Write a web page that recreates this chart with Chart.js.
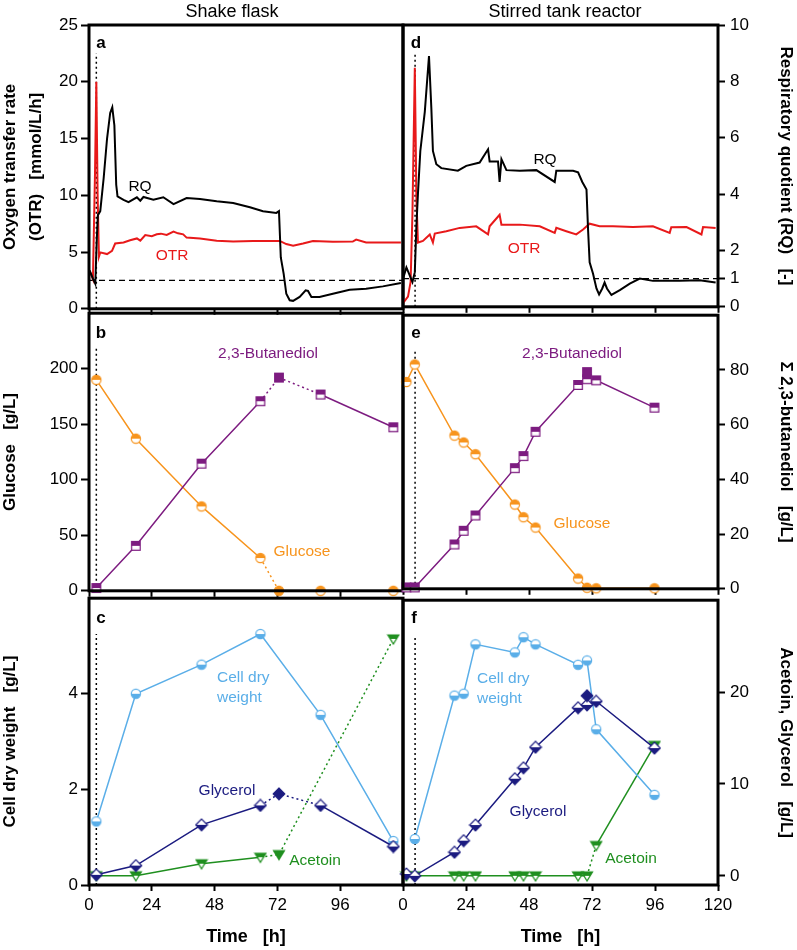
<!DOCTYPE html>
<html>
<head>
<meta charset="utf-8">
<script src="https://cdn.jsdelivr.net/npm/chart.js@4/dist/chart.umd.min.js"></script>
<style>
  body { margin: 0; width: 797px; height: 950px; position: relative; overflow: hidden; background: #fff; }
  canvas { position: absolute; }
  .lbl { position: absolute; transform: translate(-50%, -50%); white-space: nowrap; line-height: 1;
         font-family: "Liberation Sans", Arial, Helvetica, sans-serif; font-size: 15.5px; }
  .hdr { font-size: 18px; }
  .let { font-size: 17px; font-weight: bold; }
  .blk { position: absolute; font-family: "Liberation Sans", Arial, sans-serif; font-size: 15.5px; line-height: 20px; }
</style>
</head>
<body>
<canvas id="cA" width="420" height="322" style="left:0;top:0"></canvas>
<canvas id="cD" width="407" height="322" style="left:390px;top:0"></canvas>
<canvas id="cB" width="420" height="304" style="left:0;top:300px"></canvas>
<canvas id="cE" width="407" height="304" style="left:390px;top:300px"></canvas>
<canvas id="cC" width="420" height="365" style="left:0;top:585px"></canvas>
<canvas id="cF" width="407" height="365" style="left:390px;top:585px"></canvas>

<div class="lbl hdr" style="left:232px;top:11px">Shake flask</div>
<div class="lbl hdr" style="left:565px;top:11px">Stirred tank reactor</div>
<div class="lbl let" style="left:101px;top:42px">a</div>
<div class="lbl let" style="left:416px;top:42px">d</div>
<div class="lbl let" style="left:101px;top:332px">b</div>
<div class="lbl let" style="left:416px;top:332px">e</div>
<div class="lbl let" style="left:101px;top:617px">c</div>
<div class="lbl let" style="left:414px;top:617px">f</div>
<div class="lbl" style="left:140px;top:186px">RQ</div>
<div class="lbl" style="left:172px;top:255px;color:#e8191a">OTR</div>
<div class="lbl" style="left:545px;top:159px">RQ</div>
<div class="lbl" style="left:524px;top:248px;color:#e8191a">OTR</div>
<div class="lbl" style="left:268px;top:353px;color:#7d1c80">2,3-Butanediol</div>
<div class="lbl" style="left:302px;top:551px;color:#f7941d">Glucose</div>
<div class="lbl" style="left:572px;top:353px;color:#7d1c80">2,3-Butanediol</div>
<div class="lbl" style="left:582px;top:523px;color:#f7941d">Glucose</div>
<div class="blk" style="left:217px;top:667px;color:#5aaee8">Cell dry<br>weight</div>
<div class="blk" style="left:477px;top:668px;color:#5aaee8">Cell dry<br>weight</div>
<div class="lbl" style="left:227px;top:790px;color:#1b1b80">Glycerol</div>
<div class="lbl" style="left:538px;top:811px;color:#1b1b80">Glycerol</div>
<div class="lbl" style="left:315px;top:860px;color:#1f8f1f">Acetoin</div>
<div class="lbl" style="left:631px;top:858px;color:#1f8f1f">Acetoin</div>

<script>
// tick positions
const timeTicksL = [0, 24, 48, 72, 96];
const timeTicksR = [0, 24, 48, 72, 96, 120];
const otrTicks = [0, 5, 10, 15, 20, 25];
const rqTicks = [0, 1, 2, 4, 6, 8, 10];
const glucoseTicks = [0, 50, 100, 150, 200];
const bdoTicks = [0, 20, 40, 60, 80];
const cdwTicks = [0, 2, 4];
const byproductTicks = [0, 10, 20];

// shake flask online data
const sfOtrT = [0.3, 1.5, 2.3, 2.8, 3.3, 3.8, 4.3, 6.9, 8.8, 10, 13.2, 15.7, 18.3, 19.6, 21.5, 24, 25.9, 27.5, 29.7, 32.3, 34, 36, 37.3, 42.4, 48.8, 55.1, 62.7, 72.9, 75.4, 78, 81.8, 85.6, 93.2, 100.8, 102.1, 105.9, 119.2];
const sfOtr = [3.3, 2.6, 12, 20, 10, 4.6, 4.97, 4.82, 5.1, 5.75, 5.84, 6.04, 6.2, 6.0, 6.5, 6.4, 6.56, 6.62, 6.5, 6.8, 6.65, 6.56, 6.27, 6.2, 6.0, 5.92, 5.98, 5.98, 5.7, 5.55, 5.75, 5.98, 5.9, 5.92, 6.1, 5.84, 5.84];
const sfRqT = [0.25, 1.5, 2.4, 3.0, 3.4, 4.3, 5.6, 6.9, 8.1, 8.9, 9.7, 10.4, 10.9, 13.2, 15.1, 18.3, 19.6, 20.8, 24.6, 28.4, 32.3, 37.3, 42.4, 48.8, 55.1, 61.5, 66.5, 71.6, 72.6, 73.3, 74.4, 75.4, 76.7, 78, 80.5, 82.8, 83.7, 85, 88.1, 93.2, 99.6, 105.9, 112.3, 119.2];
const sfRq = [1.35, 1.06, 0.88, 2.5, 3.3, 3.44, 4.6, 6.0, 6.9, 7.1, 6.46, 4.37, 3.96, 3.84, 3.76, 3.93, 3.81, 3.94, 3.84, 3.93, 3.69, 3.9, 3.87, 3.79, 3.73, 3.58, 3.44, 3.38, 3.44, 1.81, 1.23, 0.53, 0.30, 0.28, 0.42, 0.65, 0.63, 0.42, 0.42, 0.53, 0.67, 0.71, 0.79, 0.91];

// stirred tank online data
const strOtrT = [0, 1.9, 2.9, 3.6, 4.5, 5.1, 5.7, 7.6, 10.2, 11.4, 12.1, 16.5, 21.6, 27.9, 32.4, 33, 36.8, 37.5, 44.5, 52.1, 57.8, 58.4, 62.2, 66, 68.6, 71.1, 74.9, 80, 87.6, 95.2, 101.6, 102.2, 108, 113.7, 114.3, 119.1];
const strOtr = [0.32, 0.9, 2.2, 8.3, 21.2, 9.76, 5.7, 5.84, 6.42, 5.7, 6.5, 6.7, 7.0, 7.14, 6.42, 7.14, 8.16, 7.29, 7.29, 7.14, 6.56, 7.0, 6.7, 6.42, 6.85, 7.37, 7.14, 7.14, 7.08, 7.14, 6.56, 7.06, 7.08, 6.42, 7.08, 7.0];
const strRqT = [0, 1.3, 2.6, 3.6, 4.5, 5.1, 5.7, 6.6, 8.3, 9.9, 10.8, 11.4, 12.7, 14.6, 20.9, 24.1, 29.2, 32.4, 33, 36.2, 36.8, 37.5, 39.4, 44.5, 50.8, 57.8, 58.4, 64.8, 66.7, 68.3, 69.9, 70.5, 71.1, 72.4, 73.7, 74.7, 75.9, 76.8, 77.7, 79.4, 82.6, 86.4, 90.2, 95.2, 105.4, 113, 119.1];
const strRq = [1.0, 1.4, 1.11, 0.88, 1.23, 2.86, 4.02, 5.53, 6.92, 8.9, 7.04, 5.53, 5.06, 4.92, 4.83, 5.0, 5.12, 5.59, 5.16, 5.16, 4.43, 5.24, 4.85, 4.83, 4.85, 4.43, 4.83, 4.83, 4.77, 4.43, 4.16, 2.74, 1.58, 1.17, 0.65, 0.44, 0.65, 0.86, 0.65, 0.42, 0.59, 0.82, 1.0, 0.92, 0.92, 0.94, 0.86];

// shake flask samples (index 4 = separate 72 h sample, full marker, dotted link)
const sfSampleT = [2.8, 17.9, 43.0, 65.5, 72.6, 88.5, 116.3];
const sfGlucose = [190, 137, 76, 29.5, 0, 0, 0];
const sfBdo = [1, 16.2, 45.8, 68.3, 76.8, 70.7, 58.9];
const sfCdw = [1.33, 4.0, 4.61, 5.25, null, 3.56, 0.92];
const sfGlycerol = [0.1, 1.1, 5.5, 7.6, 8.85, 7.6, 3.16];
const sfAcetoin = [0, 0, 1.3, 2.0, 2.29, null, 25.6];

// stirred tank samples
const strSampleT = [1.3, 4.5, 19.6, 23.1, 27.6, 42.6, 45.9, 50.5, 66.7, 70.1, 73.6, 95.8];
const strGlucose = [189, 205, 140, 133.7, 123, 77, 65.4, 56, 9.4, 1, 0.5, 0.5];
const strBdo = [0.5, 0.5, 16.2, 21.2, 26.8, 44.1, 48.5, 57.4, 74.5, 76.6, 76.2, 66.2];
const strCdw = [null, 0.97, 3.99, 4.03, 5.07, 4.9, 5.22, 5.07, 4.64, 4.73, 3.28, 1.9];
const strGlycerol = [0.2, 0, 2.57, 3.83, 5.53, 10.57, 11.76, 14.0, 18.3, 18.6, 19.0, 13.9];
const strAcetoin = [0, 0, 0, 0, 0, 0, 0, 0, 0, 0, 3.3, 14.2];
const strExtraT = [70.1];
const strBdoExtra = [79.2];
const strGlycerolExtra = [19.6];

// reference lines
const sfMarkT = 2.8, strMarkT = 4.6, rqRef = 1;
const markTop = { 1: 22.5, 2: 218, 3: 5.25 };

const COL = { red: '#e8191a', orange: '#f7941d', purple: '#7d1c80', blue: '#5aaee8', navy: '#1b1b80', green: '#1f8f1f' };

Chart.defaults.font.family = '"Liberation Sans", Arial, Helvetica, sans-serif';
Chart.defaults.color = '#000';

function marker(shape, color, fill) {
  const s = 14, m = s / 2, c = document.createElement('canvas');
  c.width = c.height = s;
  const g = c.getContext('2d');
  const path = () => {
    g.beginPath();
    if (shape === 'circle') g.arc(m, m, 4.6, 0, 2 * Math.PI);
    else if (shape === 'square') g.rect(m - 4.3, m - 4.3, 8.6, 8.6);
    else if (shape === 'diamond') { g.moveTo(m, m - 5.8); g.lineTo(m + 5.8, m); g.lineTo(m, m + 5.8); g.lineTo(m - 5.8, m); g.closePath(); }
    else { g.moveTo(m - 5.5, m - 4); g.lineTo(m + 5.5, m - 4); g.lineTo(m, m + 5); g.closePath(); }
  };
  path(); g.fillStyle = '#fff'; g.fill();
  g.save(); path(); g.clip(); g.fillStyle = color;
  if (fill === 'full') g.fillRect(0, 0, s, s);
  else if (fill === 'top') g.fillRect(0, 0, s, m);
  else g.fillRect(0, m, s, s);
  g.restore();
  path(); g.lineWidth = 1.2; g.strokeStyle = color; g.stroke();
  return c;
}

const pts = (t, v) => t.map((x, i) => ({ x, y: v[i] }));

// dotted: indices of the point just before each dotted segment (a skipped null counts as that point)
function samples(t, v, axis, color, shape, half, fullIdx, dotted) {
  const halfM = marker(shape, color, half), fullM = marker(shape, color, 'full');
  return {
    data: pts(t, v), yAxisID: axis, borderColor: color, backgroundColor: color, borderWidth: 1.5,
    pointRadius: 5, pointStyle: c => (c.dataIndex === fullIdx ? fullM : halfM),
    spanGaps: true, clip: false, tension: 0,
    segment: { borderDash: s => (dotted.includes(s.p0DataIndex) ? [2, 3] : undefined) },
  };
}

function extraPoints(t, v, axis, color, shape) {
  const m = marker(shape, color, 'full');
  return { data: pts(t, v), yAxisID: axis, showLine: false, pointRadius: 5, pointStyle: m, clip: false, borderColor: color };
}

function online(t, v, axis, color) {
  return { data: pts(t, v), yAxisID: axis, borderColor: color, borderWidth: 2, pointRadius: 0, tension: 0 };
}

function vline(xv, top) {
  return { data: [{ x: xv, y: 0 }, { x: xv, y: top }], yAxisID: 'yL', borderColor: '#000', borderWidth: 1.5, borderDash: [2, 3], pointRadius: 0 };
}

const frame = {
  id: 'frame',
  afterDatasetsDraw(chart) {
    const a = chart.chartArea, c = chart.ctx;
    c.save(); c.lineWidth = 3; c.strokeStyle = '#000';
    c.strokeRect(a.left, a.top, a.right - a.left, a.bottom - a.top);
    c.restore();
  },
};

function yScale(pos, show, min, max, ticks, title, tl) {
  const left = pos === 'left';
  return {
    type: 'linear', position: pos, display: show, min, max,
    afterBuildTicks: s => { s.ticks = ticks.map(v => ({ value: v })); },
    afterFit: s => { if (show) s.width = left ? 89 : 79; },
    ticks: { font: { size: 17 }, padding: left ? 3 : 5, color: '#000' },
    grid: { drawOnChartArea: false, tickLength: left ? 8 : 7, tickWidth: 2, tickColor: '#000' },
    border: { display: false },
    title: {
      display: true, text: title, color: '#000',
      font: { size: 17, weight: 'bold', lineHeight: tl ? tl.lh : 1.2 },
      padding: { top: tl ? tl.pad : (left ? 0 : 1), bottom: 0 },
    },
  };
}

const ROWS = {
  1: { yL: [0, 25, otrTicks, ['Oxygen transfer rate', '(OTR)   [mmol/L/h]'], { lh: 1.53, pad: -3 }],
       yR: [0, 10, rqTicks, 'Respiratory quotient (RQ)   [-]'] },
  2: { yL: [0, 250, glucoseTicks, 'Glucose   [g/L]'], yR: [0, 100, bdoTicks, '\u03A3 2,3-butanediol   [g/L]'] },
  3: { yL: [0, 6, cdwTicks, 'Cell dry weight   [g/L]'], yR: [-1, 30, byproductTicks, 'Acetoin, Glycerol   [g/L]'] },
};

function panel(id, left, row, datasets) {
  const r = ROWS[row], bottom = row === 3;
  new Chart(document.getElementById(id), {
    type: 'line',
    data: { datasets },
    options: {
      responsive: false, animation: false, events: [],
      layout: { padding: { left: left ? 0 : 13, right: left ? 17 : 0, top: row === 1 ? 25 : 12, bottom: 0 } },
      scales: {
        x: {
          type: 'linear', min: 0, max: 120,
          afterBuildTicks: s => { s.ticks = (left ? timeTicksL : timeTicksR).map(v => ({ value: v })); },
          afterFit: s => { s.height = bottom ? 65 : 10; },
          ticks: { display: bottom, font: { size: 17 }, padding: 4, maxRotation: 0, color: '#000' },
          grid: { drawOnChartArea: false, tickLength: 6, tickWidth: 2, tickColor: '#000' },
          border: { display: false },
          title: { display: bottom, text: 'Time   [h]', color: '#000', font: { size: 18, weight: 'bold', lineHeight: 1.2 }, padding: { top: 0, bottom: 2.5 } },
        },
        yL: yScale('left', left, r.yL[0], r.yL[1], r.yL[2], r.yL[3], r.yL[4]),
        yR: yScale('right', !left, r.yR[0], r.yR[1], r.yR[2], r.yR[3]),
      },
      plugins: { legend: { display: false }, tooltip: { enabled: false } },
    },
    plugins: [frame],
  });
}

const rqLine = () => ({ data: [{ x: 0, y: rqRef }, { x: 120, y: rqRef }], yAxisID: 'yR', borderColor: '#000', borderWidth: 1.3, borderDash: [6, 4], pointRadius: 0 });

panel('cA', true, 1, [
  online(sfRqT, sfRq, 'yR', '#000'),
  online(sfOtrT, sfOtr, 'yL', COL.red),
  rqLine(),
  vline(sfMarkT, markTop[1]),
]);
panel('cD', false, 1, [
  online(strRqT, strRq, 'yR', '#000'),
  online(strOtrT, strOtr, 'yL', COL.red),
  rqLine(),
  vline(strMarkT, markTop[1]),
]);
panel('cB', true, 2, [
  samples(sfSampleT, sfBdo, 'yR', COL.purple, 'square', 'top', 4, [3, 4]),
  samples(sfSampleT, sfGlucose, 'yL', COL.orange, 'circle', 'top', 4, [3, 4]),
  vline(sfMarkT, markTop[2]),
]);
panel('cE', false, 2, [
  extraPoints(strExtraT, strBdoExtra, 'yR', COL.purple, 'square'),
  samples(strSampleT, strBdo, 'yR', COL.purple, 'square', 'top', -1, []),
  samples(strSampleT, strGlucose, 'yL', COL.orange, 'circle', 'top', -1, []),
  vline(strMarkT, markTop[2]),
]);
panel('cC', true, 3, [
  samples(sfSampleT, sfGlycerol, 'yR', COL.navy, 'diamond', 'bottom', 4, [3, 4]),
  samples(sfSampleT, sfCdw, 'yL', COL.blue, 'circle', 'bottom', -1, []),
  samples(sfSampleT, sfAcetoin, 'yR', COL.green, 'triangle', 'top', 4, [3, 4, 5]),
  vline(sfMarkT, markTop[3]),
]);
panel('cF', false, 3, [
  extraPoints(strExtraT, strGlycerolExtra, 'yR', COL.navy, 'diamond'),
  samples(strSampleT, strGlycerol, 'yR', COL.navy, 'diamond', 'bottom', -1, []),
  samples(strSampleT, strCdw, 'yL', COL.blue, 'circle', 'bottom', -1, []),
  samples(strSampleT, strAcetoin, 'yR', COL.green, 'triangle', 'top', -1, [9]),
  vline(strMarkT, markTop[3]),
]);
</script>
</body>
</html>
